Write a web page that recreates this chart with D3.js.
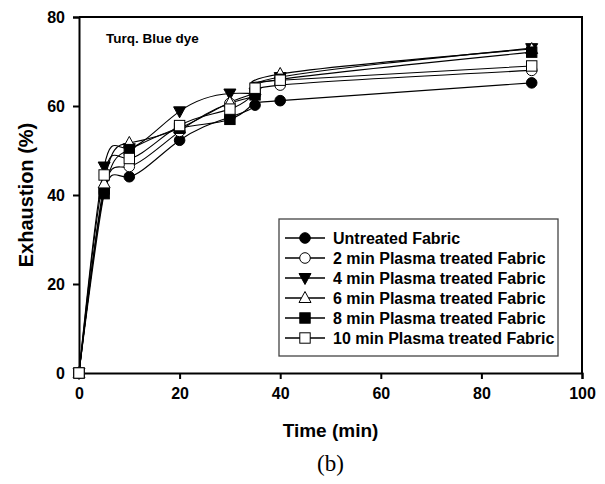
<!DOCTYPE html>
<html>
<head>
<meta charset="utf-8">
<script src="https://cdn.jsdelivr.net/npm/d3@7"></script>
<style>
  body { margin: 0; background: #fff; }
  svg { font-family: "Liberation Sans", Arial, sans-serif; }
</style>
</head>
<body>
<script>
const times = [0, 5, 10, 20, 30, 35, 40, 90];
const seriesNames = [
  "Untreated Fabric",
  "2 min Plasma treated Fabric",
  "4 min Plasma treated Fabric",
  "6 min Plasma treated Fabric",
  "8 min Plasma treated Fabric",
  "10 min Plasma treated Fabric"
];
const untreated = [0, 40.5, 44.1, 52.3, 57.5, 60.2, 61.2, 65.2];
const min2 = [0, 41.2, 46.4, 54.3, 60.6, 62.5, 64.7, 68.0];
const min4 = [0, 46.4, 50.5, 58.8, 62.8, 63.0, 66.5, 73.0];
const min6 = [0, 42.6, 51.7, 55.0, 60.8, 63.5, 67.2, 72.8];
const min8 = [0, 40.3, 50.2, 55.0, 57.0, 62.5, 66.0, 72.1];
const min10 = [0, 44.5, 48.2, 55.6, 59.3, 64.0, 65.8, 69.0];
const allValues = [untreated, min2, min4, min6, min8, min10];
const xTicks = [0, 20, 40, 60, 80, 100];
const yTicks = [0, 20, 40, 60, 80];

// marker style per series: shape + fill
const markers = [
  { shape: "circle", fill: "#000" },
  { shape: "circle", fill: "#fff" },
  { shape: "tridown", fill: "#000" },
  { shape: "triup", fill: "#fff" },
  { shape: "square", fill: "#000" },
  { shape: "square", fill: "#fff" }
];

const width = 605, height = 484;
const margin = { top: 17, right: 23, bottom: 111, left: 79 };
const iw = width - margin.left - margin.right;
const ih = height - margin.top - margin.bottom;

const x = d3.scaleLinear().domain([0, 100]).range([0, iw]);
const y = d3.scaleLinear().domain([0, 80]).range([ih, 0]);

const svg = d3.select("body").append("svg")
  .attr("width", width).attr("height", height);

const g = svg.append("g").attr("transform", `translate(${margin.left},${margin.top})`);

function drawMarker(sel, m) {
  if (m.shape === "circle") {
    sel.append("circle").attr("r", 5.3);
  } else if (m.shape === "square") {
    sel.append("rect").attr("x", -5.2).attr("y", -5.2).attr("width", 10.4).attr("height", 10.4);
  } else if (m.shape === "triup") {
    sel.append("path").attr("d", "M0,-6.5L6,4.5L-6,4.5Z");
  } else {
    sel.append("path").attr("d", "M0,6.5L6,-4.5L-6,-4.5Z");
  }
  sel.selectAll("*").attr("fill", m.fill).attr("stroke", "#000").attr("stroke-width", 1);
}

// frame top / right
g.append("path")
  .attr("d", `M0,0H${iw}V${ih}`)
  .attr("fill", "none").attr("stroke", "#000").attr("stroke-width", 2);

// axes
const xAxis = g.append("g").attr("transform", `translate(0,${ih})`)
  .call(d3.axisBottom(x).tickValues(xTicks).tickSize(6).tickPadding(9));
const yAxis = g.append("g")
  .call(d3.axisLeft(y).tickValues(yTicks).tickSize(6).tickPadding(8));
[xAxis, yAxis].forEach((ax) => {
  ax.select(".domain").attr("stroke-width", 2);
  ax.selectAll(".tick line").attr("stroke-width", 2);
  ax.selectAll(".tick text")
    .style("font-size", "16px").style("font-weight", "bold")
    .style("font-family", "'Liberation Sans', Arial, sans-serif");
});

// lines and markers
const line = d3.line().x((d, i) => x(times[i])).y((d) => y(d)).curve(d3.curveNatural);

allValues.forEach((vals) => {
  g.append("path")
    .attr("d", line(vals))
    .attr("fill", "none").attr("stroke", "#000").attr("stroke-width", 1.1);
});
allValues.forEach((vals, si) => {
  vals.forEach((v, i) => {
    const mg = g.append("g").attr("transform", `translate(${x(times[i])},${y(v)})`);
    drawMarker(mg, markers[si]);
  });
});

// annotation
g.append("text")
  .attr("x", 27).attr("y", 26)
  .style("font-size", "13.5px").style("font-weight", "bold")
  .text("Turq. Blue dye");

// axis titles
svg.append("text")
  .attr("x", margin.left + iw / 2).attr("y", 437)
  .attr("text-anchor", "middle")
  .style("font-size", "19px").style("font-weight", "bold")
  .text("Time (min)");
svg.append("text")
  .attr("transform", `translate(33,${margin.top + ih / 2}) rotate(-90)`)
  .attr("text-anchor", "middle")
  .style("font-size", "20px").style("font-weight", "bold")
  .text("Exhaustion (%)");
svg.append("text")
  .attr("x", margin.left + iw / 2).attr("y", 471)
  .attr("text-anchor", "middle")
  .style("font-family", "'Liberation Serif', 'Times New Roman', serif")
  .style("font-size", "23px")
  .text("(b)");

// legend
const lg = svg.append("g").attr("transform", "translate(279,219)");
lg.append("rect")
  .attr("width", 279).attr("height", 137)
  .attr("fill", "#fff").attr("stroke", "#444").attr("stroke-width", 1.3);
seriesNames.forEach((name, i) => {
  const ry = 19 + i * 20;
  lg.append("line")
    .attr("x1", 6).attr("x2", 46).attr("y1", ry).attr("y2", ry)
    .attr("stroke", "#000").attr("stroke-width", 1.5);
  const mg = lg.append("g").attr("transform", `translate(26,${ry})`);
  drawMarker(mg, markers[i]);
  lg.append("text")
    .attr("x", 54).attr("y", ry + 5.5)
    .style("font-size", "16px").style("font-weight", "bold")
    .text(name);
});
</script>
</body>
</html>
